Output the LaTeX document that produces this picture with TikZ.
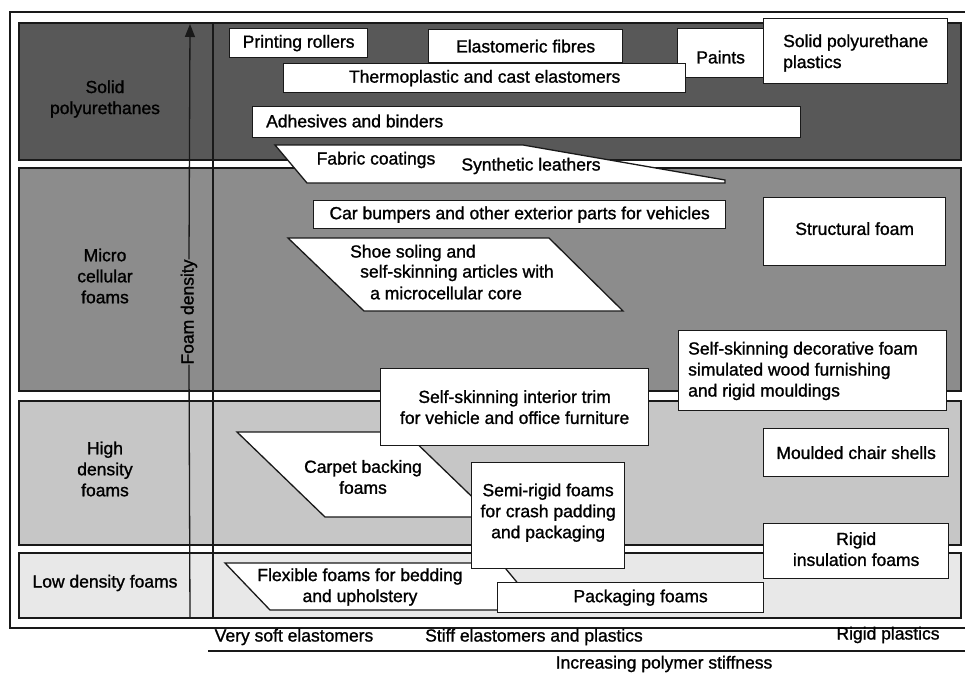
\documentclass[tikz,border=0pt]{standalone}
\usepackage{fontspec}
\setmainfont{Liberation Sans}[BoldFont={Liberation Sans}, BoldFeatures={FakeBold=1.2}]
\usetikzlibrary{arrows.meta}
\definecolor{bandA}{HTML}{585858}
\definecolor{bandB}{HTML}{8C8C8C}
\definecolor{bandC}{HTML}{C6C6C6}
\definecolor{bandD}{HTML}{E8E8E8}
\tikzset{
  ln/.style={line width=1.3pt, draw=black!90},
  band/.style={ln},
  appbox/.style={ln, fill=white, inner sep=0pt, anchor=north west},
  appshape/.style={ln, fill=white},
  lbl/.style={inner sep=0pt, align=center, font=\fontsize{17.5}{21}\selectfont\bfseries},
  lbll/.style={inner sep=0pt, align=left, anchor=west, font=\fontsize{17.5}{21}\selectfont\bfseries},
}
\newcommand{\abox}[5]{\node[appbox, minimum width=#4pt-#2pt, minimum height=#5pt-#3pt] (#1) at (#2,#3) {};}
\begin{document}
\begin{tikzpicture}[x=1pt,y=-1pt]
\useasboundingbox (0,0) rectangle (965,675);
% frame
\draw[ln] (10,12) rectangle (968,628);
% bands
\draw[band, fill=bandA] (19,23) rectangle (961,160);
\draw[band, fill=bandB] (19,168) rectangle (961,391);
\draw[band, fill=bandC] (19,401) rectangle (961,545);
\draw[band, fill=bandD] (19,553) rectangle (961,618);
% band labels
\node[lbl] (lsolid) at (105,99) {Solid\\polyurethanes};
\node[lbl] (lmicro) at (105,276) {Micro\\cellular\\foams};
\node[lbl] (lhigh) at (105,469) {High\\density\\foams};
\node[lbl] (llow) at (105,583) {Low density foams};
% vertical lines
\coordinate (vt) at (213,23);
\coordinate (vb) at (213,618);
\draw[ln] (vt) -- (vb);
\node[lbl, rotate=90] (fd) at (189,312) {Foam density};
\coordinate (ab) at (190,618);
\coordinate (at) at (190,24);
\draw[ln] (ab) -- (fd.west);
\draw[ln, -{Triangle[length=13pt,width=10pt]}] (fd.east) -- (at);
% solid polyurethane boxes
\abox{elast}{428}{29}{622}{62}
\node[lbl] at (elast.center) {Elastomeric fibres};
\abox{print}{229}{28}{367}{57}
\node[lbl] at (print.center) {Printing rollers};
\abox{paints}{677}{28}{763}{77}
\node[lbl] at ([yshift=-4pt]paints.center) {Paints};
\abox{solidpu}{763}{18}{947}{83}
\node[lbll] at (783,53) {Solid polyurethane\\plastics};
\abox{thermo}{283}{63}{685}{92}
\node[lbl] at (thermo.center) {Thermoplastic and cast elastomers};
\abox{adh}{252}{106}{800}{137}
\node[lbll] at (266,121) {Adhesives and binders};
\draw[appshape] (275,145) -- (523,145) -- (725,180) -- (725,183) -- (307,183) -- cycle;
\node[lbl] (fab) at (376,160) {Fabric coatings};
\node[lbl] (syn) at (531,166) {Synthetic leathers};
% microcellular
\abox{car}{313}{200}{725}{228}
\node[lbl] at (car.center) {Car bumpers and other exterior parts for vehicles};
\draw[appshape] (288,238) -- (549,238) -- (623,311) -- (364,311) -- cycle;
\node[lbll] (sh1) at (350,253) {Shoe soling and};
\node[lbll] (sh2) at (360,273) {self-skinning articles with};
\node[lbll] (sh3) at (370,293) {a microcellular core};
\abox{struct}{763}{197}{945}{265}
\node[lbl] at ([yshift=3pt]struct.center) {Structural foam};
% high density
\draw[appshape] (237,432) -- (405,432) -- (493,517) -- (325,517) -- cycle;
\node[lbl] (carpet) at (363,477) {Carpet backing\\foams};
\abox{trim}{380}{368}{648}{445}
\node[lbl] at (trim.center) {Self-skinning interior trim\\for vehicle and office furniture};
\abox{decor}{678}{330}{946}{410}
\node[lbll] at (688,371) {Self-skinning decorative foam\\simulated wood furnishing\\and rigid mouldings};
% low density
\draw[appshape] (225,563) -- (501,563) -- (540,610) -- (270,610) -- cycle;
\node[lbl] (flex) at (360,587) {Flexible foams for bedding\\and upholstery};
\abox{semi}{471}{462}{624}{568}
\node[lbl] at ([yshift=3pt]semi.center) {Semi-rigid foams\\for crash padding\\and packaging};
\abox{pack}{497}{582}{763}{612}
\node[lbl] at ([xshift=10pt]pack.center) {Packaging foams};
\abox{mould}{763}{428}{948}{476}
\node[lbl] at (mould.center) {Moulded chair shells};
\abox{rigid}{763}{523}{948}{578}
\node[lbl] at ([yshift=2pt]rigid.center) {Rigid\\insulation foams};
% axis
\node[lbl] (vs) at (294,637) {Very soft elastomers};
\node[lbl] (se) at (534,637) {Stiff elastomers and plastics};
\node[lbl] (rp) at (888,635) {Rigid plastics};
\coordinate (ul) at (208,651);
\coordinate (ur) at (965,651);
\draw[ln] (ul) -- (ur);
\node[lbl] (inc) at (664,664) {Increasing polymer stiffness};
\end{tikzpicture}
\end{document}
